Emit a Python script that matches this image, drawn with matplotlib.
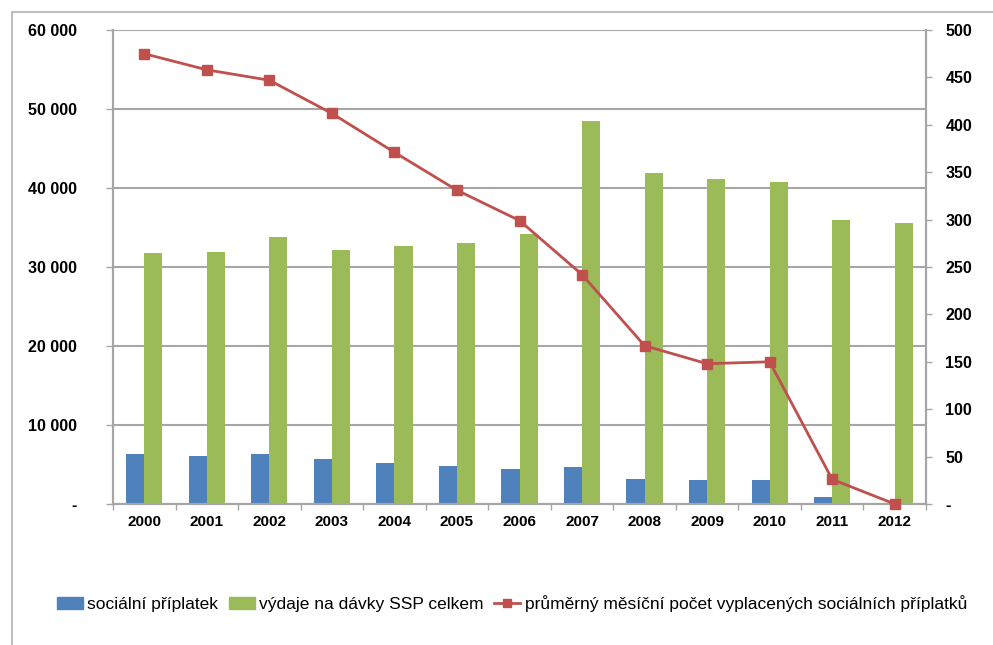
import matplotlib
matplotlib.use("Agg")
import matplotlib.pyplot as plt
from matplotlib.lines import Line2D
from matplotlib.patches import Patch
from matplotlib.ticker import FuncFormatter, FixedLocator
import numpy as np
from matplotlib import font_manager

names = {f.name for f in font_manager.fontManager.ttflist}
fam = 'Liberation Sans Narrow' if 'Liberation Sans Narrow' in names else 'Liberation Sans'
plt.rcParams['font.family'] = [fam, 'DejaVu Sans']

years = ['2000', '2001', '2002', '2003', '2004', '2005', '2006',
         '2007', '2008', '2009', '2010', '2011', '2012']
socialni_priplatek = [6300, 6100, 6300, 5750, 5250, 4800, 4450,
                      4700, 3200, 3050, 3050, 900, 0]
vydaje_ssp = [31800, 31900, 33800, 32100, 32700, 33000, 34200,
              48500, 41900, 41200, 40800, 35900, 35600]
prum_pocet = [475, 458, 447, 412, 371, 331, 299, 242, 167, 148, 150, 26, 0]

label_blue = 'sociální příplatek'
label_green = 'výdaje na dávky SSP celkem'
label_red = 'průměrný měsíční počet vyplacených sociálních příplatků'

blue = '#4f81bd'
green = '#9bbb59'
red = '#c0504d'
gridc = '#a6a6a6'

fig = plt.figure(figsize=(9.93, 6.45), dpi=100)
ax = fig.add_axes([113/993, 1-504/645, (926-113)/993, (504-30)/645])
ax2 = ax.twinx()

x = np.arange(len(years))
w = 0.29
ax.bar(x - w/2, socialni_priplatek, width=w, color=blue, zorder=2)
ax.bar(x + w/2, vydaje_ssp, width=w, color=green, zorder=2)
ax2.plot(x, prum_pocet, color=red, lw=2, marker='s', ms=7.5, zorder=3, clip_on=False)

ax.set_xlim(-0.5, len(years) - 0.5)
ax.set_ylim(0, 60000)
ax2.set_ylim(0, 500)
ax.set_yticks(np.arange(0, 60001, 10000))
ax2.set_yticks(np.arange(0, 501, 50))

def fmt_left(v, p):
    if v == 0:
        return '-'
    return f'{int(v):,}'.replace(',', ' ')

def fmt_right(v, p):
    if v == 0:
        return '-'
    return f'{int(v)}'

ax.yaxis.set_major_formatter(FuncFormatter(fmt_left))
ax2.yaxis.set_major_formatter(FuncFormatter(fmt_right))

ax.set_xticks(x)
ax.set_xticklabels(years, fontweight='bold', fontsize=11)
ax.xaxis.set_minor_locator(FixedLocator(np.arange(-0.5, len(years), 1)))
ax.tick_params(axis='x', which='major', length=0, pad=8)
ax.tick_params(axis='x', which='minor', length=4, color=gridc, width=1)

ax.tick_params(axis='y', length=5, color=gridc, width=1, pad=21, labelsize=11.5)
ax2.tick_params(axis='y', length=4, color=gridc, width=1, pad=10, labelsize=11.5)
for lab in ax.get_yticklabels() + ax2.get_yticklabels():
    lab.set_fontweight('bold')

ax.grid(axis='y', color=gridc, lw=1.5, zorder=0)
ax.set_axisbelow(True)
for a in (ax, ax2):
    a.spines['top'].set_visible(False)
    for s in ('left', 'right', 'bottom'):
        a.spines[s].set_color(gridc)
        a.spines[s].set_linewidth(1.5)

handles = [Patch(color=blue, label=label_blue),
           Patch(color=green, label=label_green),
           Line2D([0], [0], color=red, lw=2, marker='s', ms=6, label=label_red)]
fig.legend(handles=handles, loc='center', bbox_to_anchor=(512/993, 1-604/645),
           ncol=3, frameon=False, fontsize=12.5, handlelength=1.5, handletextpad=0.25,
           columnspacing=0.6)

# outer chart frame
fig.add_artist(Line2D([12/993, 1], [1-12/645, 1-12/645], transform=fig.transFigure,
                      color='#bfbfbf', lw=1.5))
fig.add_artist(Line2D([12/993, 12/993], [0, 1-12/645], transform=fig.transFigure,
                      color='#bfbfbf', lw=1.5))

fig.savefig('out.png', dpi=100)
